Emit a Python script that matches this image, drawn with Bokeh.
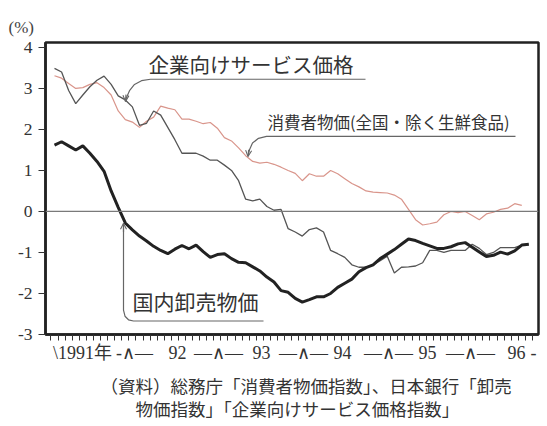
import numpy as np
from bokeh.plotting import figure
from bokeh.models import Range1d, FixedTicker, Label, Arrow, OpenHead, Span, Title
from bokeh.embed import file_html
from bokeh.resources import INLINE

# ---------------- data (monthly, Jan 1991 = 0) ----------------
wholesale = [1.62, 1.70, 1.60, 1.50, 1.60, 1.42, 1.22, 0.98, 0.50, 0.10,
             -0.28, -0.45, -0.60, -0.72, -0.85, -0.95, -1.03, -0.92, -0.83, -0.91,
             -0.82, -0.98, -1.12, -1.05, -1.03, -1.15, -1.24, -1.25, -1.35, -1.45,
             -1.60, -1.72, -1.93, -1.97, -2.12, -2.21, -2.15, -2.08, -2.08, -2.00,
             -1.85, -1.75, -1.65, -1.47, -1.37, -1.30, -1.15, -1.04, -0.93, -0.80,
             -0.67, -0.71, -0.78, -0.84, -0.90, -0.90, -0.86, -0.79, -0.76, -0.87,
             -0.99, -1.10, -1.07, -0.99, -1.04, -0.96, -0.82, -0.80]
services = [3.49, 3.40, 2.95, 2.63, 2.84, 3.04, 3.20, 3.30, 3.10, 2.82,
            2.72, 2.55, 2.10, 2.15, 2.45, 2.35, 2.05, 1.75, 1.42, 1.42,
            1.42, 1.35, 1.25, 1.25, 1.13, 1.00, 0.75, 0.30, 0.26, 0.30,
            0.12, 0.03, 0.05, -0.42, -0.50, -0.60, -0.44, -0.40, -0.50, -0.95,
            -1.03, -1.12, -1.30, -1.36, -1.36, -1.30, -1.20, -1.09, -1.50, -1.36,
            -1.35, -1.33, -1.25, -0.95, -0.95, -1.00, -0.95, -0.95, -0.95, -0.80,
            -0.90, -1.05, -1.00, -0.88, -0.88, -0.88, -0.82]
cpi = [3.31, 3.25, 3.12, 3.00, 3.02, 3.10, 3.14, 3.02, 2.84, 2.45,
       2.24, 2.18, 2.05, 2.20, 2.30, 2.57, 2.52, 2.48, 2.25, 2.25,
       2.20, 2.14, 2.17, 2.03, 1.80, 1.72, 1.55, 1.36, 1.22, 1.18,
       1.20, 1.15, 1.08, 1.00, 0.93, 0.75, 0.92, 0.86, 0.86, 1.00,
       0.92, 0.80, 0.68, 0.60, 0.50, 0.47, 0.46, 0.45, 0.40, 0.30,
       0.05, -0.20, -0.33, -0.30, -0.26, -0.08, 0.00, -0.03, 0.00, -0.10,
       -0.20, -0.06, -0.02, 0.05, 0.08, 0.19, 0.15]
months_w = list(range(len(wholesale)))
months_s = list(range(len(services)))
months_c = list(range(len(cpi)))

y_ticks = [-3, -2, -1, 0, 1, 2, 3, 4]
y_tick_labels = ["-3", "-2", "-1", "0", "1", "2", "3", "4"]
x_label_pos = [3.95, 11.3, 17.37, 23.16, 29.24, 35.17, 40.68, 47.18, 52.68, 58.76, 65.25, 67.66]
x_label_text = ["\\1991年", "-∧—", "92", "—∧—", "93", "—∧—", "94", "—∧—", "95", "—∧—", "96", "-"]
month_ticks = [k - 0.5 for k in range(69)]

label_services = "企業向けサービス価格"
label_cpi = "消費者物価(全国・除く生鮮食品)"
label_wholesale = "国内卸売物価"
unit_text = "(%)"
source_1 = "（資料）総務庁「消費者物価指数」、日本銀行「卸売"
source_2 = "物価指数」「企業向けサービス価格指数」"

# ---------------- helpers for placing annotations ----------------
def X(px):
    return (px - 54.0) / 7.08

_ref_px = [47.3, 90.7, 132.7, 175.7, 217.3, 258.3, 299.0, 333.3]
_ref_val = [4, 3, 2, 1, 0, -1, -2, -3]

def Y(py):
    return float(np.interp(py, _ref_px, _ref_val))

SERIF = "Liberation Serif, DejaVu Serif, Noto Sans CJK JP"
JP = "Noto Sans CJK JP"

p = figure(width=541, height=426, x_range=Range1d(X(45), X(538)), y_range=Range1d(-3, 4.12),
           output_backend="svg", toolbar_location=None, min_border=0)
p.min_border_left = 45
p.min_border_right = 3
p.min_border_top = 42
p.min_border_bottom = 89
p.grid.visible = False
p.background_fill_color = "white"
p.border_fill_color = "white"
p.outline_line_color = "#222222"
p.outline_line_width = 2.5

# axes
yax = p.yaxis[0]
yax.ticker = FixedTicker(ticks=y_ticks, minor_ticks=[])
yax.major_label_overrides = {t: s for t, s in zip(y_ticks, y_tick_labels)}
yax.major_tick_out = 7
yax.major_tick_in = 0
yax.major_tick_line_color = "#333333"
yax.major_tick_line_width = 1.2
yax.axis_line_color = "#222222"
yax.axis_line_width = 2.5
yax.major_label_standoff = 6
yax.major_label_text_font = SERIF
yax.major_label_text_font_size = "17.5px"
yax.major_label_text_color = "#333333"

xax = p.xaxis[0]
xax.ticker = FixedTicker(ticks=x_label_pos, minor_ticks=month_ticks)
xax.major_label_overrides = {t: s for t, s in zip(x_label_pos, x_label_text)}
xax.major_tick_line_color = None
xax.major_tick_out = 6
xax.major_tick_in = 0
xax.minor_tick_out = 6
xax.minor_tick_in = 0
xax.minor_tick_line_color = "#333333"
xax.minor_tick_line_width = 1
xax.axis_line_color = "#222222"
xax.axis_line_width = 2.5
xax.major_label_standoff = 2
xax.major_label_text_font = SERIF
xax.major_label_text_font_size = "18px"
xax.major_label_text_color = "#333333"

# zero line
p.add_layout(Span(location=0, dimension="width", line_color="#7a7a7a", line_width=1.2))

# series
p.line(months_c, cpi, line_color="#d9958b", line_width=1.2)
p.line(months_s, services, line_color="#555555", line_width=1.3)
p.line(months_w, wholesale, line_color="#222222", line_width=3)

# callout leaders
lead = dict(line_color="#666666", line_width=1.2)
c1 = [(365, 81), (150, 81), (141, 82.5), (134, 86.5), (129, 93), (126, 100), (125, 104)]
p.line([X(a) for a, b in c1], [Y(b) for a, b in c1], **lead)
c2 = [(515, 140), (266, 140), (258, 142), (252, 147), (249, 154), (247.5, 161)]
p.line([X(a) for a, b in c2], [Y(b) for a, b in c2], **lead)
c3 = [(123, 230), (123, 313), (124.5, 318), (128, 321), (133, 322), (263, 322)]
p.line([X(a) for a, b in c3], [Y(b) for a, b in c3], **lead)

for (xs, ys, xe, ye) in [(125.5, 97, 125, 104), (248.2, 154, 247.5, 161), (123, 238, 123, 229)]:
    p.add_layout(Arrow(end=OpenHead(size=6, line_color="#666666", line_width=1.1),
                       x_start=X(xs), y_start=Y(ys), x_end=X(xe), y_end=Y(ye),
                       line_color="#666666", line_width=1.2))

# callout texts
p.add_layout(Label(x=X(148), y=Y(65), text=label_services, text_font=JP, text_font_size="20.5px",
                   text_baseline="middle", text_align="left", text_color="#333333"))
p.add_layout(Label(x=X(267), y=Y(125), text=label_cpi, text_font=JP, text_font_size="16.5px",
                   text_baseline="middle", text_align="left", text_color="#333333"))
p.add_layout(Label(x=X(132), y=Y(305), text=label_wholesale, text_font=JP, text_font_size="21px",
                   text_baseline="middle", text_align="left", text_color="#333333"))

# unit (above the frame) and source lines (below the axis)
p.add_layout(Title(text=unit_text, align="left", offset=-37, standoff=12, text_font=SERIF,
                   text_font_size="17px", text_font_style="normal", text_color="#444444"), "above")
p.add_layout(Title(text=source_1 + "\n\u3000\u3000" + source_2, align="left", offset=55, standoff=11,
                   text_font=JP, text_font_size="17.5px", text_line_height=0.93,
                   text_font_style="normal", text_color="#333333"), "below")

open("out.html", "w").write(file_html(p, INLINE))
